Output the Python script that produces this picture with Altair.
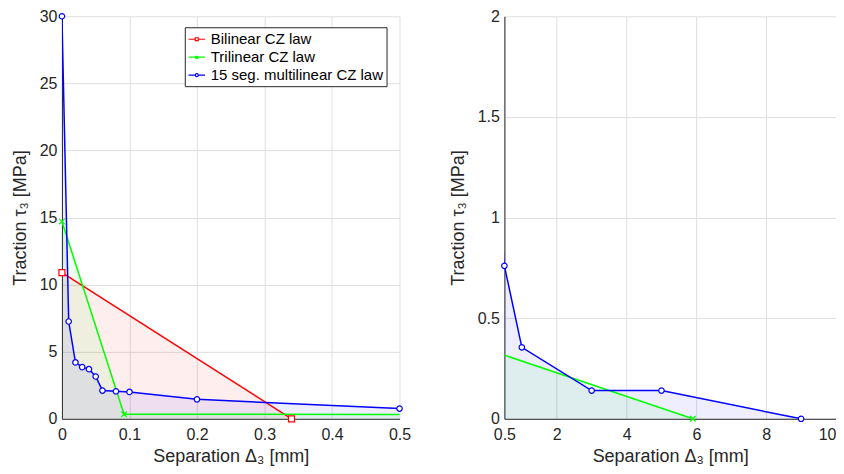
import altair as alt
import pandas as pd

# ---- data ----
series_names = ["Bilinear CZ law", "Trilinear CZ law", "15 seg. multilinear CZ law"]
series_colors = ["#ff0000", "#00ff00", "#0000ff"]

bil_x = [0.0, 0.34]
bil_y = [10.9, 0.0]

tri_x = [0.0, 0.092, 5.9]
tri_y = [14.7, 0.34, 0.0]

mul_x = [0.0, 0.01, 0.02, 0.03, 0.04, 0.05, 0.06, 0.08, 0.1, 0.2, 0.5, 1.0, 3.0, 5.0, 9.0]
mul_y = [30.0, 7.25, 4.2, 3.85, 3.7, 3.15, 2.1, 2.05, 2.0, 1.45, 0.76, 0.355, 0.14, 0.14, 0.0]

left_xticks = [0, 0.1, 0.2, 0.3, 0.4, 0.5]
left_yticks = [0, 5, 10, 15, 20, 25, 30]
right_xticks = [0.5, 2, 4, 6, 8, 10]
right_yticks = [0, 0.5, 1, 1.5, 2]

rows = []
for name, xs, ys in zip(series_names, [bil_x, tri_x, mul_x], [bil_y, tri_y, mul_y]):
    for xv, yv in zip(xs, ys):
        rows.append({"x": xv, "y": yv, "series": name})
df = pd.DataFrame(rows)

marker_shapes = ["square", "M-1,-1L1,1M-1,1L1,-1", "circle"]
marker_sizes = [36, 30, 30]

legend_paths = [
    "M-1,0H-0.18M0.18,0H1M-0.18,-0.18H0.18V0.18H-0.18Z",
    "M-1,0H1M-0.16,-0.16L0.16,0.16M-0.16,0.16L0.16,-0.16",
    "M-1,0H-0.18M0.18,0H1M0.18,0A0.18,0.18 0 1,1 -0.18,0A0.18,0.18 0 1,1 0.18,0",
]

TXT = "#262626"
FONT = "Liberation Sans"


def panel(xmin, xmax, xticks, ymax, yticks, width, with_legend):
    X = alt.X("x:Q", scale=alt.Scale(domain=[xmin, xmax], nice=False, zero=False),
              axis=alt.Axis(values=xticks, format=".1~f", title="Separation Δ₃ [mm]",
                            labelPadding=8, titlePadding=5, labelFlush=False,
                            labelAlign=alt.expr(f"datum.value == {xmax} && {xmax} > 1 ? 'right' : 'center'")))
    Y = alt.Y("y:Q", scale=alt.Scale(domain=[0, ymax], nice=False), stack=None,
              axis=alt.Axis(values=yticks, format=".1~f", title="Traction τ₃ [MPa]",
                            labelPadding=5, titlePadding=10, labelFlush=False))
    base = alt.Chart(df).encode(x=X, y=Y)
    areas, lines, points = [], [], []
    for name, col, shp, sz in zip(series_names, series_colors, marker_shapes, marker_sizes):
        sel = base.transform_filter(alt.datum.series == name)
        areas.append(sel.mark_area(color=col, opacity=0.065, clip=True))
        lines.append(sel.mark_line(color=col, strokeWidth=1.5, clip=True))
        points.append(
            sel.transform_filter((alt.datum.x >= xmin) & (alt.datum.x <= xmax))
            .mark_point(shape=shp, size=sz, stroke=col, fill="white", filled=True,
                        fillOpacity=1 if shp != marker_shapes[1] else 0,
                        strokeWidth=1.2, opacity=1)
        )
    layers = areas + lines + points
    if with_legend:
        leg = alt.Legend(title=None, orient="none", legendX=123, legendY=11,
                         labelFontSize=15, labelFont=FONT, labelColor="#000000",
                         labelLimit=0,
                         symbolSize=272, symbolStrokeWidth=1.2, rowPadding=1,
                         padding=3, labelOffset=5, strokeColor=TXT, fillColor="white",
                         symbolFillColor="white")
        legend_layer = base.transform_filter("false").mark_point(
            filled=False, size=272, strokeWidth=1.2, opacity=1
        ).encode(
            color=alt.Color("series:N", scale=alt.Scale(domain=series_names, range=series_colors), legend=leg),
            shape=alt.Shape("series:N", scale=alt.Scale(domain=series_names, range=legend_paths), legend=leg),
        )
        layers.append(legend_layer)
    return alt.layer(*layers).properties(width=width, height=403)


left = panel(0, 0.5, left_xticks, 30, left_yticks, 338, True)
right = panel(0.5, 10, right_xticks, 2, right_yticks, 332, False)

chart = (
    alt.hconcat(left, right, spacing=37)
    .resolve_scale(color="independent", shape="independent")
    .properties(padding={"left": 3, "top": 0, "right": 0, "bottom": 0}, background="white")
    .configure_view(stroke=None)
    .configure_axis(
        labelFont=FONT, titleFont=FONT, labelFontSize=16, titleFontSize=18,
        labelColor=TXT, titleColor=TXT, titleFontWeight="normal",
        domainColor=TXT, domainWidth=1, gridColor="#dfdfdf", gridWidth=1, ticks=False,
    )
)

chart.save("out.html", embed_options={"renderer": "svg", "actions": False})
